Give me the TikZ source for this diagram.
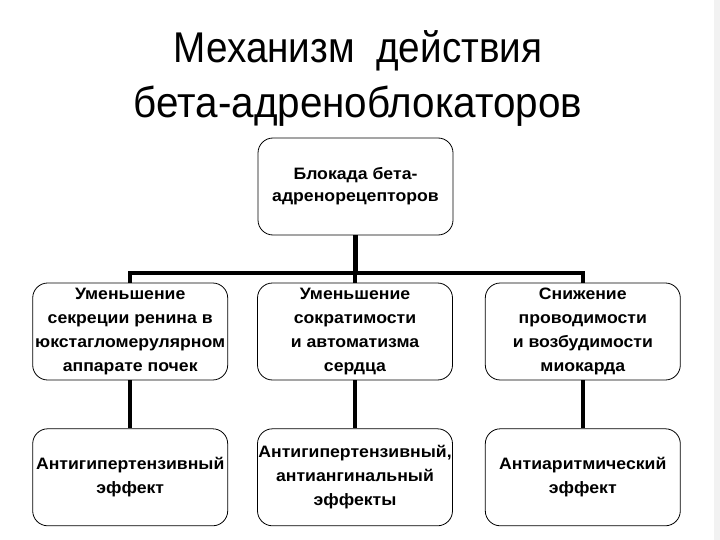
\documentclass[tikz,border=0pt]{standalone}
\usepackage{fontspec}
\setmainfont{Liberation Sans}
\newfontfamily\titlefont[FakeStretch=0.9]{Liberation Sans}
\newfontfamily\titlefontb[FakeStretch=0.94]{Liberation Sans}
\newfontfamily\boxfont[FakeStretch=1.07]{Liberation Sans}
\usetikzlibrary{positioning}

\tikzset{
  box/.style={draw, rounded corners=15pt, line width=0.8pt,
    minimum width=195pt, minimum height=97pt, inner sep=0pt, align=center,
    font=\boxfont\bfseries\fontsize{16.5}{24}\selectfont},
  link/.style={line width=4.5pt}
}

\begin{document}
\begin{tikzpicture}[x=1pt,y=-1pt]
    \useasboundingbox[fill=white] (0,0) rectangle (720,540);
    \fill[black!5] (714,0) rectangle (720,540);

    \node (title) at (358,79) [align=center, font=\titlefont\fontsize{43}{55}\selectfont]
        {Механизм\ \ действия\\{\titlefontb бета-адреноблокаторов}};

    \node (a) at (355.5,186.5) [box, font=\boxfont\bfseries\fontsize{16.5}{22}\selectfont]
        {Блокада бета-\\адренорецепторов};

    \node (b2) at (355,331.5) [box] {Уменьшение\\сократимости\\и автоматизма\\сердца};
    \node (b1) [box, left=29pt of b2] {Уменьшение\\секреции ренина в\\юкстагломерулярном\\аппарате почек};
    \node (b3) [box, right=32pt of b2] {Снижение\\проводимости\\и возбудимости\\миокарда};

    \node (c1) [box, below=48pt of b1] {Антигипертензивный\\эффект};
    \node (c2) [box, below=48pt of b2] {Антигипертензивный,\\антиангинальный\\эффекты};
    \node (c3) [box, below=48pt of b3] {Антиаритмический\\эффект};

    \coordinate (j) at (355,273);

    \draw[link] (a.south) -- (a.south |- j);
    \draw[link] (b1.north) -- (b1.north |- j) -- (b3.north |- j) -- (b3.north);
    \draw[link] (b2.north |- j) -- (b2.north);
    \foreach \i in {1,2,3}
        \draw[link] (b\i.south) -- (c\i.north);

\end{tikzpicture}
\end{document}
